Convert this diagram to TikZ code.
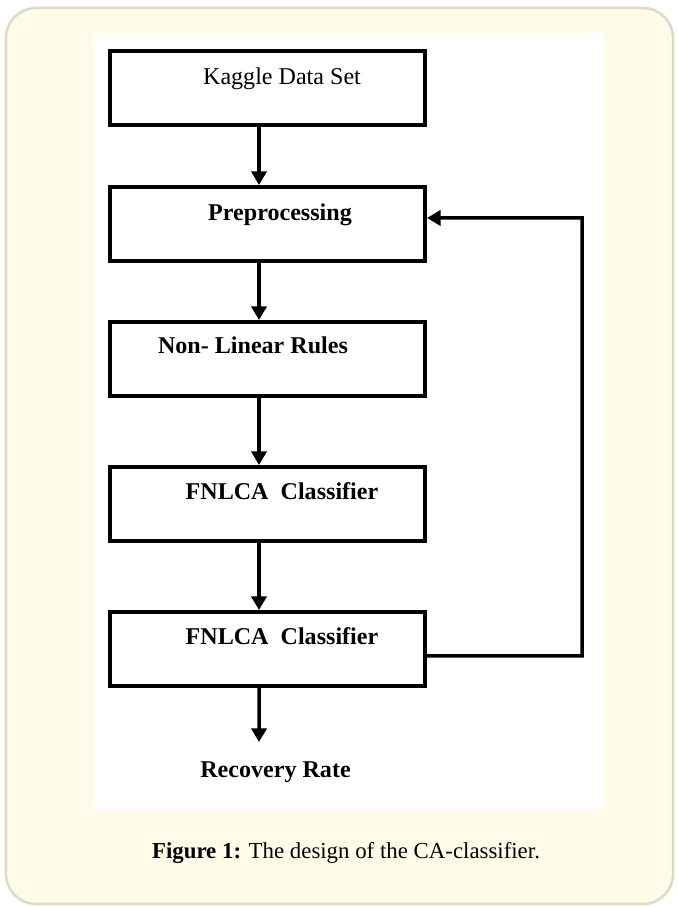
\documentclass[tikz,border=0pt]{standalone}
\usepackage{fontspec}
\setmainfont{Liberation Serif}
\usetikzlibrary{arrows.meta}
\definecolor{cream}{RGB}{255,251,232}
\definecolor{cardedge}{RGB}{221,219,200}

\begin{document}
\begin{tikzpicture}[
    box/.style={draw,line width=0.08cm,minimum width=6.3cm,minimum height=1.48cm,inner sep=0pt},
    lbl/.style={anchor=base,inner sep=0pt,font=\fontsize{13.7}{16}\selectfont\bfseries},
    arr/.style={line width=0.07cm,-{Triangle[length=0.27cm,width=0.3cm]}}
]
    \useasboundingbox(0,0)rectangle(13.54,18.14);
    \filldraw[fill=cream,draw=cardedge,line width=0.05cm,rounded corners=0.6cm](0.12,0.06)rectangle(13.46,17.98);
    \fill[white](1.88,1.96)rectangle(12.06,17.48);

    \node[box](kaggle)at(5.35,16.37){};
    \node[box](prep)at(5.35,13.66){};
    \node[box](rules)at(5.35,10.96){};
    \node[box](fnlcaA)at(5.35,8.06){};
    \node[box](fnlcaB)at(5.35,5.16){};

    \node[lbl,font=\fontsize{13.7}{16}\selectfont](kaggletxt)at(5.64,16.44){Kaggle Data Set};
    \node[lbl](preptxt)at(5.60,13.72){Preprocessing};
    \node[lbl](rulestxt)at(5.06,11.06){Non- Linear Rules};
    \node[lbl](fnlcaAtxt)at(5.64,8.14){FNLCA\ \ Classifier};
    \node[lbl](fnlcaBtxt)at(5.64,5.24){FNLCA\ \ Classifier};
    \node[lbl](rate)at(5.51,2.58){Recovery Rate};

    \draw[arr]([xshift=-0.17cm]kaggle.south)--([xshift=-0.17cm]prep.north);
    \draw[arr]([xshift=-0.17cm]prep.south)--([xshift=-0.17cm]rules.north);
    \draw[arr]([xshift=-0.17cm]rules.south)--([xshift=-0.17cm]fnlcaA.north);
    \draw[arr]([xshift=-0.17cm]fnlcaA.south)--([xshift=-0.17cm]fnlcaB.north);

    \coordinate(ratetop)at(5.18,3.30);
    \draw[arr]([xshift=-0.17cm]fnlcaB.south)--(ratetop);

    % feedback back to preprocessing
    \coordinate(loop)at(11.64,13.78);
    \draw[arr]([yshift=-0.14cm]fnlcaB.east)-|(loop)--([yshift=0.12cm]prep.east);

    \node[anchor=base,inner sep=0pt,font=\fontsize{13}{16}\selectfont](caption)at(6.92,0.96){\textbf{Figure 1:} The design of the CA-classifier.};
\end{tikzpicture}
\end{document}
